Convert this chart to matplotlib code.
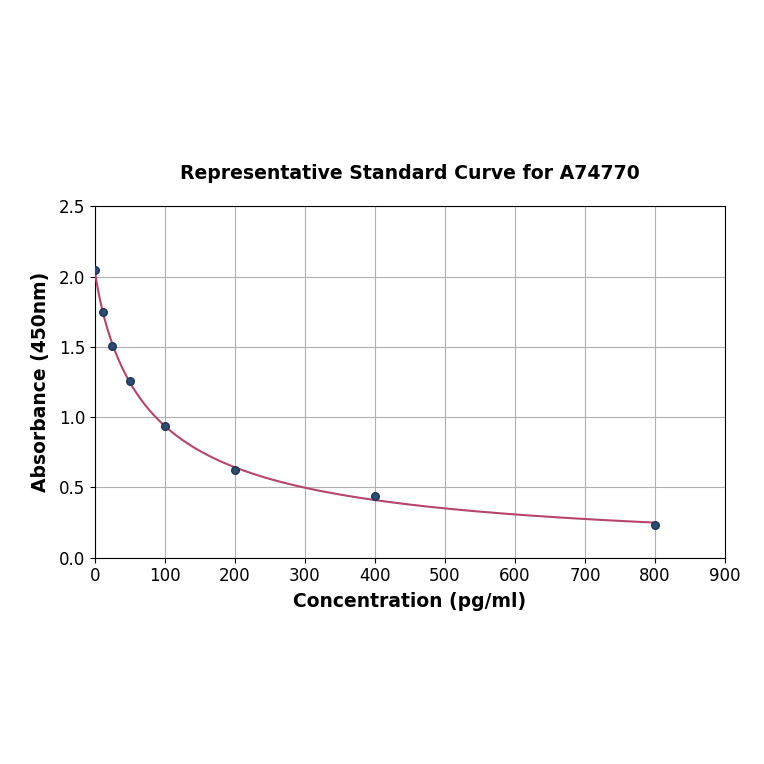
import numpy as np
import matplotlib
matplotlib.use('Agg')
import matplotlib.pyplot as plt

# standard points
conc = [0, 12.5, 25, 50, 100, 200, 400, 800]
absorb = [2.05, 1.745, 1.505, 1.255, 0.94, 0.625, 0.44, 0.235]

x = np.array(conc, dtype=float)
y = np.array(absorb, dtype=float)


def four_pl(p, xx):
    a, b, c, d = p
    return d + (a - d) / (1 + (np.maximum(xx, 1e-9) / c) ** b)


# small Levenberg-Marquardt fit of a 4PL curve
p = np.array([2.05, 1.0, 100.0, 0.0])
lam = 1e-2
for _ in range(500):
    r = y - four_pl(p, x)
    J = np.zeros((len(x), 4))
    for k in range(4):
        dp = np.zeros(4)
        dp[k] = 1e-6 * max(abs(p[k]), 1.0)
        J[:, k] = (four_pl(p + dp, x) - four_pl(p, x)) / dp[k]
    A = J.T @ J
    g = J.T @ r
    step = np.linalg.solve(A + lam * np.diag(np.diag(A)), g)
    newp = p + step
    if newp[2] > 0 and np.sum((y - four_pl(newp, x)) ** 2) < np.sum(r ** 2):
        p = newp
        lam *= 0.5
    else:
        lam *= 4

xs = np.linspace(0, 800, 400)
ys = four_pl(p, xs)

fig = plt.figure(figsize=(7.64, 7.64), dpi=100)
ax = fig.add_axes([0.124, 0.27, 0.825, 0.46])

ax.plot(xs, ys, color='#b5466b', linewidth=1.5, zorder=3)
ax.scatter(x, y, s=30, color='#2e4b73', edgecolors='#1e3456', zorder=4)

ax.set_xlim(0, 900)
ax.set_ylim(0, 2.5)
ax.set_xticks(range(0, 901, 100))
ax.set_yticks([0.0, 0.5, 1.0, 1.5, 2.0, 2.5])
ax.tick_params(labelsize=12)
ax.grid(True, color='#b0b0b0', linewidth=0.8)
ax.set_axisbelow(True)

ax.set_title('Representative Standard Curve for A74770', fontsize=13.6,
             fontweight='bold', pad=20)
ax.set_xlabel('Concentration (pg/ml)', fontsize=13.5, fontweight='bold',
              labelpad=5)
ax.set_ylabel('Absorbance (450nm)', fontsize=13.5, fontweight='bold',
              labelpad=6)

fig.savefig('out.png', dpi=100)
